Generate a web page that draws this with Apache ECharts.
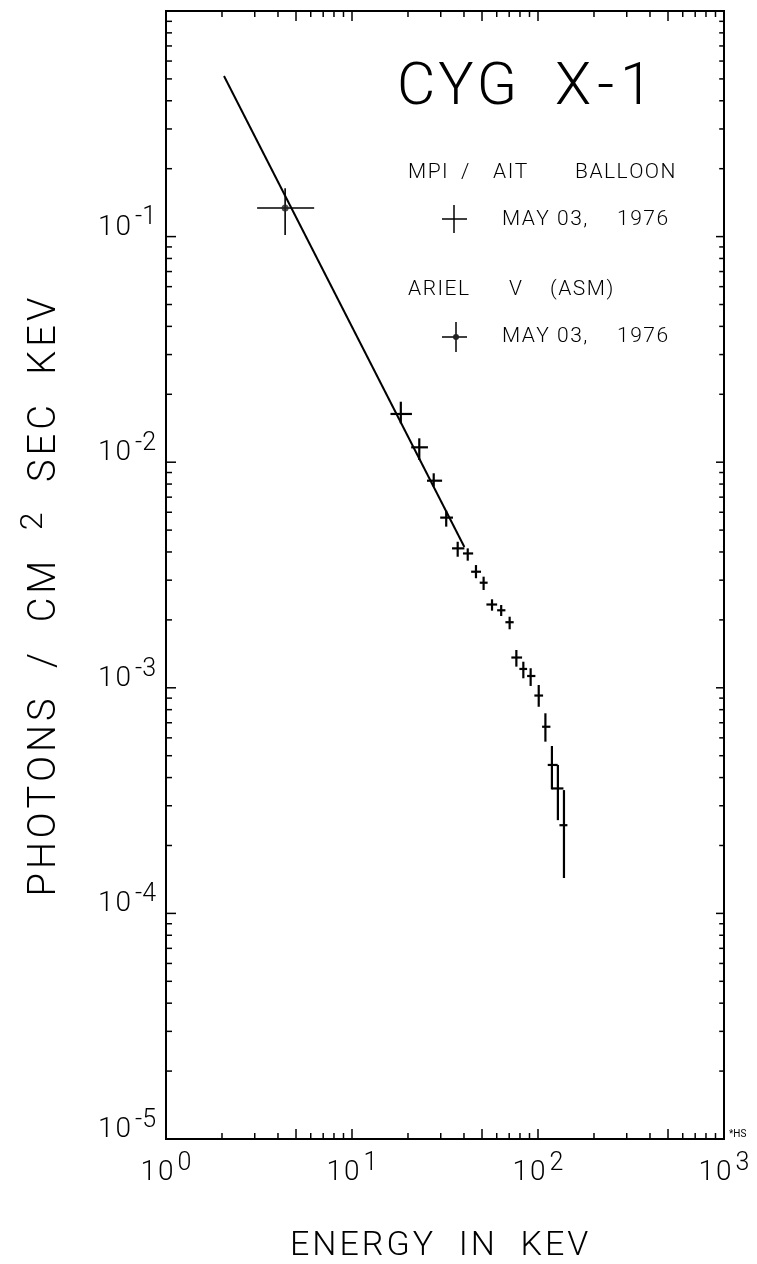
<!DOCTYPE html>
<html>
<head>
<meta charset="utf-8">
<script src="https://cdn.jsdelivr.net/npm/echarts@6/dist/echarts.min.js"></script>
<style>
  html, body { margin: 0; padding: 0; background: #fff; }
  #chart { width: 757px; height: 1264px; }
</style>
</head>
<body>
<div id="chart"></div>
<script>
// Cyg X-1 hard X-ray spectrum, 1976 May 3

// MPI / AIT balloon points (energy in keV, flux in photons / cm^2 s keV)
const balloonEnergy     = [18.3, 23.0, 27.5, 32.1, 37.0, 41.9, 46.4, 51.0, 56.6, 63.4, 70.4, 76.5, 83.4, 91.3, 100.9, 109.6, 118.8, 127.9, 137.9];
const balloonEnergyLow  = [16.1, 20.8, 25.3, 29.8, 34.5, 39.5, 43.7, 48.6, 52.8, 60.3, 66.8, 71.9, 79.4, 87.4, 95.6, 105.2, 112.8, 118.1, 130.4];
const balloonEnergyHigh = [21.0, 25.6, 30.5, 34.9, 40.2, 44.8, 49.4, 53.6, 60.3, 66.8, 74.0, 82.1, 87.4, 96.8, 106.5, 116.6, 127.6, 137.0, 143.9];
const balloonFlux       = [0.01636, 0.01164, 0.00828, 0.00568, 0.00415, 0.00394, 0.00327, 0.002923, 0.002340, 0.002206, 0.001953, 0.001362, 0.001212, 0.001128, 0.000924, 0.000672, 0.000455, 0.000358, 0.000246];
const balloonFluxLow    = [0.01487, 0.01023, 0.00779, 0.00518, 0.00381, 0.00366, 0.00306, 0.002714, 0.002197, 0.002081, 0.001817, 0.001241, 0.001102, 0.001019, 0.000824, 0.000577, 0.000355, 0.000259, 0.0001435];
const balloonFluxHigh   = [0.01854, 0.01276, 0.00893, 0.00610, 0.00444, 0.00415, 0.00350, 0.003109, 0.002468, 0.002328, 0.002066, 0.001471, 0.001305, 0.001221, 0.001029, 0.000771, 0.000552, 0.000455, 0.000352];

// Ariel V (ASM) point
const arielEnergy     = [4.37];
const arielEnergyLow  = [3.09];
const arielEnergyHigh = [6.26];
const arielFlux       = [0.134];
const arielFluxLow    = [0.1016];
const arielFluxHigh   = [0.164];

// power-law line (end points)
const fitEnergy = [2.05, 40.2];
const fitFlux   = [0.515, 0.00421];

// axes
const xRange = [1, 1000];
const yRange = [1e-5, 1];
const xDecades = [1, 10, 100];
const yDecades = [1e-5, 1e-4, 1e-3, 1e-2, 1e-1];
const tickSteps = [1, 2, 3, 4, 5, 6, 7, 8, 9];

// text
const titleWords   = ['CYG', 'X-1'];
const balloonWords = ['MPI', '/', 'AIT', 'BALLOON'];
const arielWords   = ['ARIEL', 'V', '(ASM)'];
const dateWords    = ['MAY', '03,', '1976'];
const xName = 'ENERGY  IN  KEV';
const yNameParts = ['PHOTONS  /  CM  ', '2', '  SEC  KEV'];

const FONT = 'Roboto';
const INK = '#000';

function rows(cols) {
  return cols[0].map((_, i) => cols.map(c => c[i]));
}

// one rich token per character, so letters can be spread apart
function tokens(str, name) {
  return str.split('').map(ch => '{' + name + '|' + ch + '}').join('');
}

function spacedText(str, x, y, size, gap) {
  return {
    type: 'text', x: x, y: y,
    style: {
      text: tokens(str, 'c'), verticalAlign: 'middle',
      rich: { c: { fontFamily: FONT, fontWeight: 300, fontSize: size, color: INK, padding: [0, gap, 0, 0] } }
    }
  };
}

function word(text, x, y) {
  return spacedText(text, x, y, 21, 1.5);
}

// tick marks drawn on all four sides, pointing inward
const tickData = [];
xDecades.forEach(d => tickSteps.forEach(m => {
  tickData.push([d * m, yRange[0], 0, (m === 1 || m === 5) ? 10 : 6]);
}));
tickData.push([xRange[1], yRange[0], 0, 10]);
yDecades.forEach(d => tickSteps.forEach(m => {
  tickData.push([xRange[0], d * m, 1, m === 1 ? 10 : 6]);
}));
tickData.push([xRange[0], yRange[1], 1, 10]);

function renderTick(params, api) {
  const cs = params.coordSys;
  const p = api.coord([api.value(0), api.value(1)]);
  const len = api.value(3);
  const st = { stroke: INK, lineWidth: 1.5 };
  if (api.value(2) === 0) {
    const yb = cs.y + cs.height, yt = cs.y;
    return { type: 'group', children: [
      { type: 'line', shape: { x1: p[0], y1: yb, x2: p[0], y2: yb - len }, style: st },
      { type: 'line', shape: { x1: p[0], y1: yt, x2: p[0], y2: yt + len }, style: st }
    ]};
  }
  const xl = cs.x, xr = cs.x + cs.width;
  return { type: 'group', children: [
    { type: 'line', shape: { x1: xl, y1: p[1], x2: xl + len, y2: p[1] }, style: st },
    { type: 'line', shape: { x1: xr, y1: p[1], x2: xr - len * 0.8, y2: p[1] }, style: st }
  ]};
}

function crossRenderer(width) {
  return function (params, api) {
    const e = api.value(0), f = api.value(1);
    const a = api.coord([api.value(2), f]), b = api.coord([api.value(3), f]);
    const c = api.coord([e, api.value(4)]), d = api.coord([e, api.value(5)]);
    const st = { stroke: INK, lineWidth: width };
    return { type: 'group', children: [
      { type: 'line', shape: { x1: a[0], y1: a[1], x2: b[0], y2: b[1] }, style: st },
      { type: 'line', shape: { x1: c[0], y1: c[1], x2: d[0], y2: d[1] }, style: st }
    ]};
  };
}

function powerLabel(v) {
  const n = Math.round(Math.log10(v));
  return '{b|1}{b|0}{s|' + (n < 0 ? '-' + (-n) : n) + '}';
}

const labelRich = {
  b: { fontFamily: FONT, fontWeight: 300, fontSize: 28, color: INK, lineHeight: 30, verticalAlign: 'bottom', padding: [0, 2, 0, 0] },
  s: { fontFamily: FONT, fontWeight: 300, fontSize: 25, color: INK, lineHeight: 30, verticalAlign: 'bottom', padding: [0, 0, 11, 2] }
};

const chart = echarts.init(document.getElementById('chart'));

chart.setOption({
  backgroundColor: '#fff',
  animation: false,
  grid: {
    left: 166, right: 33, top: 11, bottom: 125,
    show: true, borderColor: INK, borderWidth: 2, backgroundColor: 'transparent'
  },
  xAxis: {
    type: 'log', logBase: 10, min: xRange[0], max: xRange[1],
    axisLine: { show: false }, axisTick: { show: false }, splitLine: { show: false },
    axisLabel: { formatter: powerLabel, margin: 18, rich: labelRich }
  },
  yAxis: {
    type: 'log', logBase: 10, min: yRange[0], max: yRange[1],
    axisLine: { show: false }, axisTick: { show: false }, splitLine: { show: false },
    axisLabel: {
      formatter: v => (v >= 0.5 ? '' : powerLabel(v)),
      margin: 10, rich: labelRich, padding: [0, 0, 20, 0]
    }
  },
  series: [
    {
      type: 'custom', name: 'ticks', silent: true, clip: false,
      renderItem: renderTick, data: tickData, z: 5
    },
    {
      type: 'line', name: 'fit', symbol: 'none', silent: true,
      lineStyle: { color: INK, width: 2 },
      data: rows([fitEnergy, fitFlux])
    },
    {
      type: 'custom', name: 'MPI / AIT balloon', silent: true,
      renderItem: crossRenderer(2.2),
      data: rows([balloonEnergy, balloonFlux, balloonEnergyLow, balloonEnergyHigh, balloonFluxLow, balloonFluxHigh])
    },
    {
      type: 'custom', name: 'Ariel V (ASM)', silent: true,
      renderItem: crossRenderer(1.6),
      data: rows([arielEnergy, arielFlux, arielEnergyLow, arielEnergyHigh, arielFluxLow, arielFluxHigh])
    },
    {
      type: 'scatter', name: 'Ariel V centre', silent: true,
      symbol: 'circle', symbolSize: 7, itemStyle: { color: '#222' },
      data: rows([arielEnergy, arielFlux])
    }
  ],
  graphic: [
    spacedText(titleWords[0], 397, 89, 59, 3),
    spacedText(titleWords[1], 555, 89, 59, 6),

    word(balloonWords[0], 408, 173),
    word(balloonWords[1], 461, 173),
    word(balloonWords[2], 493, 173),
    word(balloonWords[3], 575, 173),
    { type: 'line', shape: { x1: 442, y1: 219, x2: 467, y2: 219 }, style: { stroke: INK, lineWidth: 1.5 } },
    { type: 'line', shape: { x1: 454, y1: 205, x2: 454, y2: 233 }, style: { stroke: INK, lineWidth: 1.5 } },
    word(dateWords[0], 502, 220),
    word(dateWords[1], 557, 220),
    word(dateWords[2], 617, 220),

    word(arielWords[0], 408, 290),
    word(arielWords[1], 509, 290),
    word(arielWords[2], 550, 290),
    { type: 'line', shape: { x1: 442, y1: 337, x2: 467, y2: 337 }, style: { stroke: INK, lineWidth: 1.5 } },
    { type: 'line', shape: { x1: 456, y1: 322, x2: 456, y2: 352 }, style: { stroke: INK, lineWidth: 1.5 } },
    { type: 'circle', shape: { cx: 456, cy: 337, r: 3 }, style: { fill: '#222' } },
    word(dateWords[0], 502, 337),
    word(dateWords[1], 557, 337),
    word(dateWords[2], 617, 337),

    spacedText(xName, 290, 1246, 34, 3),
    {
      type: 'text', x: 44, y: 595, rotation: Math.PI / 2,
      style: {
        text: tokens(yNameParts[0], 'a') + '{s|' + yNameParts[1] + '}' + tokens(yNameParts[2], 'a'),
        align: 'center', verticalAlign: 'middle',
        rich: {
          a: { fontFamily: FONT, fontWeight: 300, fontSize: 38, color: INK, lineHeight: 40, verticalAlign: 'bottom', padding: [0, 4, 0, 0] },
          s: { fontFamily: FONT, fontWeight: 300, fontSize: 32, color: INK, lineHeight: 36, verticalAlign: 'bottom', padding: [0, 4, 14, 0] }
        }
      }
    },
    { type: 'text', x: 729, y: 1134, style: { text: '*HS', fontFamily: FONT, fontSize: 10, fill: INK, verticalAlign: 'middle' } }
  ]
});
</script>
</body>
</html>
